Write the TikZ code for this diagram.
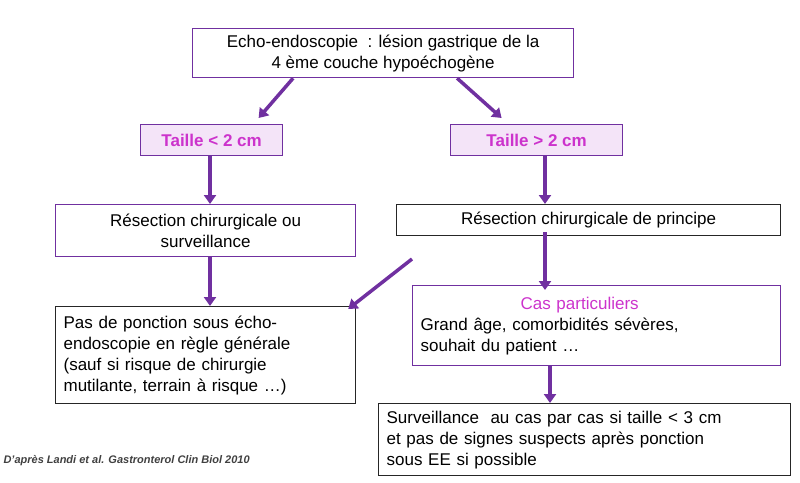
\documentclass[tikz,border=0pt]{standalone}
\usepackage{fontspec}
\setmainfont{Liberation Sans}
\usetikzlibrary{arrows.meta, positioning}
\definecolor{plum}{RGB}{112,48,160}
\definecolor{orchid}{RGB}{204,51,204}
\definecolor{lilac}{RGB}{244,228,248}
\tikzset{
    step box/.style = {
      draw=plum, line width=1.2pt, align=center, inner sep=3pt,
      font=\fontsize{17}{21}\selectfont, anchor=north west,
    },
    dark box/.style = {step box, draw=black!85!white},
    left box/.style = {dark box, align=left, inner xsep=8pt},
    size box/.style = {
      step box, fill=lilac, text=orchid, font=\fontsize{17}{21}\selectfont\bfseries,
    },
    link/.style = {line width=3.5pt, plum, arrows={-Triangle[length=9pt, width=12pt]}},
}
\begin{document}
\begin{tikzpicture}[x=1pt, y=-1pt]
    \useasboundingbox (0,0) rectangle (800,482);

    %% Boxes, placed at their corners
    \node [step box, minimum width=381pt, minimum height=49pt] (echo) at (192,28)
          {Echo-endoscopie\ \ : lésion gastrique de la\\4 ème couche hypoéchogène};
    \node [size box, minimum width=142pt, minimum height=31pt] (small) at (140,124) {Taille < 2 cm};
    \node [size box, minimum width=172pt, minimum height=31pt] (large) at (450,124) {Taille > 2 cm};
    \node [step box, minimum width=300pt, minimum height=52pt] (either) at (55,204)
          {Résection chirurgicale ou\\surveillance};
    \node [dark box, minimum width=384pt, minimum height=31pt] (resect) at (396,204)
          {Résection chirurgicale de principe};
    \node [left box, text width=284pt, minimum height=97pt] (nopunct) at (55,306)
          {Pas de ponction sous écho-\\endoscopie en règle générale\\(sauf si risque de chirurgie\\mutilante, terrain à risque \dots)};
    \node [left box, draw=plum, text width=352pt, minimum height=80pt, inner ysep=1pt] (special) at (412,285)
          {\hspace*{100pt}\textcolor{orchid}{Cas particuliers}\\Grand âge, comorbidités sévères,\\souhait du patient \dots};
    \node [left box, text width=396pt, minimum height=72pt, inner ysep=1pt] (watch) at (378,403)
          {Surveillance\ \ au cas par cas si taille < 3 cm\\et pas de signes suspects après ponction\\sous EE si possible};
    \node [anchor=west, font=\fontsize{11}{13}\selectfont\itshape\bfseries, text=black!75!white]
          (source) at (0,461) {D'après Landi et al. Gastronterol Clin Biol 2010};

    %% Connectors
    \coordinate (cross) at (412,259);
    \coordinate (rightx) at (545,0);
    \coordinate (leftx) at (210,0);
    \draw [link] ([xshift=-90pt] echo.south) -- ([xshift=47pt, yshift=6pt] small.north);
    \draw [link] ([xshift=74pt] echo.south) -- ([xshift=-35pt, yshift=6pt] large.north);
    \draw [link] (small.south -| leftx) -- (either.north -| leftx);
    \draw [link] (large.south -| rightx) -- (resect.north -| rightx);
    \draw [link] (either.south -| leftx) -- (nopunct.north -| leftx);
    \draw [link] ([yshift=4pt] resect.south -| rightx) -- ([yshift=-5pt] special.north -| rightx);
    \draw [link] (cross) -- ([xshift=-8pt, yshift=-3pt] nopunct.north east);
    \draw [link] (special.south -| 550,0) -- (watch.north -| 550,0);
\end{tikzpicture}
\end{document}
